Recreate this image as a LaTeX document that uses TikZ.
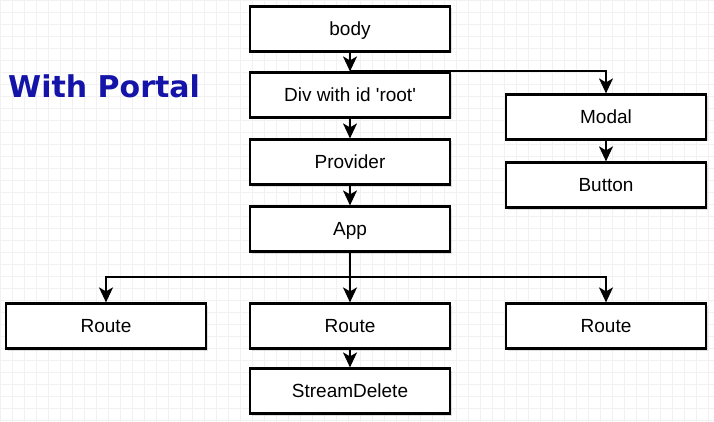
\documentclass[tikz,border=0pt]{standalone}
\usepackage{fontspec}
\setmainfont{Liberation Sans}
\newfontfamily\titlefont{DejaVu Sans}
\usetikzlibrary{arrows.meta,shadows}
\definecolor{portalblue}{HTML}{1414A8}
\definecolor{gridgray}{HTML}{F1F1F1}
\begin{document}
\begin{tikzpicture}[x=1pt,y=-1pt,
  box/.style={draw=black, line width=2.2pt, fill=white, shape=rectangle,
    minimum width=200pt, minimum height=45pt, inner sep=0pt,
    text height=13.6pt, text depth=0pt,
    font=\fontsize{19}{22}\selectfont,
    drop shadow={shadow xshift=2pt, shadow yshift=-2pt, opacity=0.25}},
  link/.style={draw=black, line width=1.6pt, -{Stealth[length=15pt,width=14pt,inset=4pt]}},
  gridline/.style={gridgray, line width=0.6pt}]

%% - Background and helping gridlines
%% - --------------------------------------

\useasboundingbox (0,0) rectangle (714,422);
\fill[white] (0,0) rectangle (714,422);
\draw[gridline, step=12pt] (0,0) grid (714,422);

%% - Title
%% - --------------------------------------

\node[anchor=west, font=\titlefont\bfseries\fontsize{30}{34}\selectfont, text=portalblue, inner sep=0pt] (title) at (8,86) {With Portal};

%% - Draw boxes
%% - --------------------------------------

%% - main column
\node[box] (body) at (350,29) {body};
\node[box] (root) at (350,95) {Div with id \textquotesingle root\textquotesingle};
\node[box] (provider) at (350,162) {Provider};
\node[box] (app) at (350,229) {App};

%% - portal column
\node[box] (modal) at (606,117) {Modal};
\node[box] (button) at (606,185) {Button};

%% - routes
\node[box] (routeL) at (106,326) {Route};
\node[box] (routeM) at (350,326) {Route};
\node[box] (routeR) at (606,326) {Route};
\node[box] (streamdelete) at (350,391) {StreamDelete};

%% - Draw arrows
%% - --------------------------------------

\coordinate (split) at (350,71);
\coordinate (fork) at (350,277);

\draw[link] (body) -- (root);
\draw[link] (split) -| (modal);
\draw[link] (root) -- (provider);
\draw[link] (provider) -- (app);
\draw[link] (modal) -- (button);

\draw[link] (app) -- (routeM);
\draw[link] (fork) -| (routeL);
\draw[link] (fork) -| (routeR);
\draw[link] (routeM) -- (streamdelete);

\end{tikzpicture}
\end{document}
